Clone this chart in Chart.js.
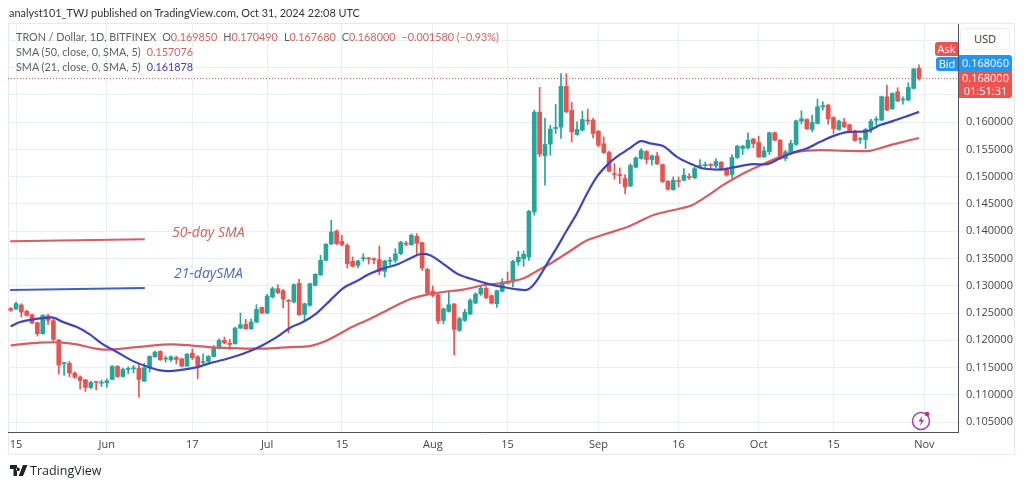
<!DOCTYPE html>
<html>
<head>
<meta charset="utf-8">
<title>TRON / Dollar</title>
<script src="https://cdn.jsdelivr.net/npm/chart.js@4/dist/chart.umd.min.js"></script>
<style>
  html, body { margin: 0; padding: 0; background: #fff; }
  body { width: 1024px; height: 487px; position: relative; overflow: hidden; font-family: Lato, "Open Sans", sans-serif; color: #444; }
  canvas { position: absolute; left: 0; top: 0; }
  .abs { position: absolute; white-space: nowrap; }
  .frame { position: absolute; left: 8px; top: 23px; width: 1007px; height: 432px; border: 1px solid #e6e9ef; box-sizing: border-box; }
  .row { font-size: 10.8px; line-height: 14px; color: #5d606b; }
  .row .r { color: #d9605f; }
  .row .b { color: #3f3fb5; }
  .row .g { margin-left: 6px; }
  .note { font-size: 14px; font-style: italic; font-family: "Open Sans", sans-serif; }
  .tag { color: #fff; font-size: 11px; text-align: center; font-family: "Open Sans", sans-serif; }
</style>
</head>
<body>
<div class="frame"></div>
<canvas id="chart" width="1024" height="487"></canvas>

<div class="abs" style="left:9px;top:5px;font-size:10.9px;line-height:16px;color:#333">analyst101_TWJ published on TradingView.com, Oct 31, 2024 22:08 UTC</div>
<div class="abs row" style="left:16px;top:30px">TRON / Dollar, 1D, BITFINEX<span class="g">O</span><span class="r">0.169850</span><span class="g">H</span><span class="r">0.170490</span><span class="g">L</span><span class="r">0.167680</span><span class="g">C</span><span class="r">0.168000</span><span class="g r">−0.001580 (−0.93%)</span></div>
<div class="abs row" style="left:16px;top:45px">SMA (50, close, 0, SMA, 5)<span class="g r">0.157076</span></div>
<div class="abs row" style="left:16px;top:60px">SMA (21, close, 0, SMA, 5)<span class="g b">0.161878</span></div>

<div class="abs note" style="left:172px;top:222px;color:#d9605f">50-day SMA</div>
<div class="abs note" style="left:174px;top:263px;color:#4a68c8">21-daySMA</div>

<div class="abs" style="left:960px;top:28px;width:50px;height:22px;box-sizing:border-box;border:1px solid #eceef2;border-radius:4px;background:#fff;font-size:11px;line-height:20px;text-align:center;color:#333;font-family:'Open Sans',sans-serif">USD</div>
<div class="abs tag" style="left:935px;top:42px;width:23px;height:14px;line-height:14px;background:#ef5350;border-radius:3px 0 0 3px">Ask</div>
<div class="abs tag" style="left:936px;top:57px;width:22px;height:14px;line-height:14px;background:#2196f3;border-radius:3px 0 0 3px">Bid</div>
<div class="abs tag" style="left:959px;top:55px;width:53px;height:16px;line-height:16px;background:#2196f3;border-radius:0 3px 0 0">0.168060</div>
<div class="abs tag" style="left:959px;top:71px;width:53px;height:27px;line-height:13px;background:#ef5350;border-radius:0 0 3px 0">0.168000<br>01:51:31</div>

<svg class="abs" style="left:911px;top:409px" width="22" height="22" viewBox="0 0 22 22">
  <circle cx="10" cy="12" r="8.5" fill="none" stroke="#9c3fc0" stroke-width="1.5"/>
  <path d="M11 7 L7.5 12.5 L10 12.5 L9 17 L13 11 L10.5 11 Z" fill="#9c3fc0"/>
  <circle cx="16" cy="5" r="2.2" fill="#e91e63"/>
</svg>

<svg class="abs" style="left:10px;top:465px" width="18" height="12" viewBox="0 0 18 12">
  <path d="M0 0 H7 V11 H3.5 V4 H0 Z M8 2.5 a1.8 1.8 0 1 0 0.01 0 Z M13 0 H17.5 L13 11 H8.6 Z" fill="#1e222d"/>
</svg>
<div class="abs" style="left:30px;top:463px;font-size:12.5px;line-height:16px;color:#1e222d;font-family:'Open Sans',sans-serif">TradingView</div>

<script>
// days are counted from May 15 2024, first candle is the day before
const firstDay = -1;

const opens = [
  0.12580, 0.12574, 0.12648, 0.12531, 0.12470, 0.12323, 0.12121, 0.12452, 0.12360, 0.12005,
  0.11577, 0.11577, 0.11399, 0.11326, 0.11277, 0.11136, 0.11240, 0.11215, 0.11222, 0.11283,
  0.11521, 0.11338, 0.11466, 0.11479, 0.11491, 0.11252, 0.11497, 0.11699, 0.11797, 0.11656,
  0.11644, 0.11686, 0.11661, 0.11527, 0.11765, 0.11698, 0.11594, 0.11612, 0.11704, 0.11857,
  0.11998, 0.11949, 0.11937, 0.12224, 0.12292, 0.12212, 0.12335, 0.12604, 0.12500, 0.12794,
  0.12947, 0.12910, 0.12726, 0.12702, 0.13045, 0.12475, 0.12641, 0.13008, 0.13198, 0.13467,
  0.13767, 0.14005, 0.13816, 0.13742, 0.13448, 0.13375, 0.13497, 0.13510, 0.13497, 0.13479,
  0.13265, 0.13448, 0.13467, 0.13589, 0.13779, 0.13754, 0.13907, 0.13791, 0.13302, 0.12904,
  0.12836, 0.12365, 0.12530, 0.12665, 0.12182, 0.12365, 0.12481, 0.12683, 0.12849, 0.12953,
  0.12818, 0.12671, 0.12898, 0.13081, 0.13069, 0.13436, 0.13497, 0.13527, 0.14353, 0.16183,
  0.15381, 0.15596, 0.15883, 0.15908, 0.16654, 0.16214, 0.15773, 0.15853, 0.16036, 0.16036,
  0.15834, 0.15602, 0.15443, 0.15057, 0.15039, 0.14965, 0.14831, 0.15173, 0.15332, 0.15461,
  0.15314, 0.15381, 0.15222, 0.14916, 0.14763, 0.14923, 0.14935, 0.15002, 0.14978, 0.15192,
  0.15204, 0.15216, 0.15198, 0.15265, 0.15137, 0.15039, 0.15351, 0.15516, 0.15528, 0.15688,
  0.15626, 0.15363, 0.15461, 0.15804, 0.15669, 0.15333, 0.15437, 0.15590, 0.16018, 0.16049,
  0.15865, 0.15975, 0.16281, 0.16312, 0.16085, 0.15865, 0.16000, 0.15951, 0.15841, 0.15681,
  0.15681, 0.15883, 0.16036, 0.16036, 0.16465, 0.16244, 0.16557, 0.16404, 0.16404, 0.16618,
  0.16985
];
const highs = [
  0.12605, 0.12703, 0.12672, 0.12556, 0.12482, 0.12335, 0.12470, 0.12476, 0.12397, 0.12017,
  0.11595, 0.11613, 0.11424, 0.11350, 0.11283, 0.11252, 0.11246, 0.11271, 0.11295, 0.11540,
  0.11540, 0.11491, 0.11515, 0.11540, 0.11570, 0.11577, 0.11717, 0.11803, 0.11809, 0.11711,
  0.11717, 0.11710, 0.11674, 0.11759, 0.11845, 0.11723, 0.11753, 0.11723, 0.11906, 0.12029,
  0.12059, 0.12016, 0.12243, 0.12500, 0.12384, 0.12396, 0.12653, 0.12610, 0.12843, 0.12977,
  0.13020, 0.12934, 0.12751, 0.13038, 0.13118, 0.12683, 0.13051, 0.13222, 0.13559, 0.13773,
  0.14201, 0.14024, 0.13926, 0.13773, 0.13528, 0.13473, 0.13589, 0.13522, 0.13510, 0.13730,
  0.13467, 0.13522, 0.13681, 0.13816, 0.13816, 0.13950, 0.13956, 0.13803, 0.13326, 0.12996,
  0.12855, 0.12592, 0.12885, 0.12677, 0.12426, 0.12567, 0.12763, 0.12873, 0.12996, 0.12983,
  0.12836, 0.12922, 0.13130, 0.13253, 0.13467, 0.13632, 0.13638, 0.14384, 0.16220, 0.16636,
  0.16067, 0.15944, 0.16324, 0.16887, 0.16887, 0.16361, 0.16006, 0.16201, 0.16238, 0.16067,
  0.15846, 0.15730, 0.15467, 0.15241, 0.15161, 0.15039, 0.15234, 0.15363, 0.15516, 0.15479,
  0.15394, 0.15443, 0.15234, 0.14928, 0.14996, 0.14996, 0.15149, 0.15057, 0.15180, 0.15314,
  0.15271, 0.15241, 0.15333, 0.15278, 0.15167, 0.15406, 0.15577, 0.15577, 0.15804, 0.15706,
  0.15743, 0.15547, 0.15816, 0.15822, 0.15681, 0.15486, 0.15669, 0.16036, 0.16208, 0.16061,
  0.16128, 0.16422, 0.16373, 0.16324, 0.16098, 0.16036, 0.16067, 0.15963, 0.15853, 0.15718,
  0.15883, 0.16049, 0.16098, 0.16477, 0.16679, 0.16538, 0.16630, 0.16465, 0.16722, 0.16985,
  0.17049
];
const lows = [
  0.12531, 0.12568, 0.12427, 0.12446, 0.12305, 0.12078, 0.12115, 0.12293, 0.11980, 0.11381,
  0.11356, 0.11332, 0.11301, 0.11111, 0.11062, 0.11118, 0.11093, 0.11154, 0.11142, 0.11277,
  0.11319, 0.11326, 0.11387, 0.11405, 0.10958, 0.11246, 0.11417, 0.11687, 0.11632, 0.11601,
  0.11613, 0.11570, 0.11515, 0.11521, 0.11649, 0.11294, 0.11570, 0.11600, 0.11692, 0.11845,
  0.11937, 0.11833, 0.11931, 0.12212, 0.12200, 0.12200, 0.12322, 0.12488, 0.12488, 0.12775,
  0.12855, 0.12592, 0.12139, 0.12690, 0.12457, 0.12347, 0.12628, 0.12996, 0.13191, 0.13455,
  0.13754, 0.13754, 0.13730, 0.13326, 0.13344, 0.13326, 0.13448, 0.13399, 0.13399, 0.13204,
  0.13161, 0.13387, 0.13424, 0.13571, 0.13730, 0.13742, 0.13571, 0.13283, 0.12855, 0.12800,
  0.12304, 0.12304, 0.12518, 0.11735, 0.12163, 0.12347, 0.12469, 0.12671, 0.12824, 0.12763,
  0.12665, 0.12604, 0.12885, 0.13032, 0.12977, 0.13375, 0.13357, 0.13466, 0.14292, 0.15363,
  0.14843, 0.15394, 0.15791, 0.15700, 0.16171, 0.15638, 0.15761, 0.15834, 0.15957, 0.15712,
  0.15547, 0.15424, 0.15088, 0.14953, 0.14873, 0.14684, 0.14812, 0.15161, 0.15320, 0.15234,
  0.15210, 0.15222, 0.14892, 0.14751, 0.14751, 0.14812, 0.14923, 0.14947, 0.14965, 0.15149,
  0.15167, 0.15137, 0.15167, 0.15118, 0.15008, 0.14978, 0.15333, 0.15406, 0.15510, 0.15534,
  0.15351, 0.15351, 0.15406, 0.15657, 0.15314, 0.15290, 0.15424, 0.15577, 0.15963, 0.15865,
  0.15822, 0.15963, 0.16220, 0.15963, 0.15792, 0.15853, 0.15896, 0.15804, 0.15651, 0.15608,
  0.15516, 0.15804, 0.15945, 0.16024, 0.16208, 0.16232, 0.16373, 0.16330, 0.16391, 0.16606,
  0.16768
];
const closes = [
  0.12550, 0.12672, 0.12519, 0.12458, 0.12317, 0.12121, 0.12458, 0.12366, 0.12017, 0.11546,
  0.11595, 0.11399, 0.11326, 0.11264, 0.11136, 0.11228, 0.11228, 0.11228, 0.11258, 0.11521,
  0.11338, 0.11466, 0.11479, 0.11491, 0.11283, 0.11497, 0.11705, 0.11785, 0.11644, 0.11668,
  0.11699, 0.11649, 0.11527, 0.11747, 0.11680, 0.11539, 0.11612, 0.11704, 0.11857, 0.11998,
  0.11955, 0.11925, 0.12224, 0.12286, 0.12212, 0.12335, 0.12567, 0.12500, 0.12812, 0.12947,
  0.12873, 0.12757, 0.12714, 0.13020, 0.12469, 0.12671, 0.13038, 0.13210, 0.13467, 0.13761,
  0.13987, 0.13773, 0.13754, 0.13406, 0.13357, 0.13455, 0.13510, 0.13491, 0.13473, 0.13265,
  0.13455, 0.13467, 0.13583, 0.13797, 0.13761, 0.13926, 0.13779, 0.13326, 0.12867, 0.12824,
  0.12353, 0.12579, 0.12653, 0.12200, 0.12396, 0.12518, 0.12732, 0.12849, 0.12953, 0.12781,
  0.12683, 0.12910, 0.13069, 0.13045, 0.13448, 0.13522, 0.13577, 0.14365, 0.16183, 0.15412,
  0.15589, 0.15871, 0.15902, 0.16654, 0.16189, 0.15822, 0.15865, 0.16048, 0.16018, 0.15791,
  0.15577, 0.15443, 0.15100, 0.15039, 0.15020, 0.14812, 0.15204, 0.15345, 0.15479, 0.15314,
  0.15381, 0.15234, 0.14910, 0.14769, 0.14935, 0.14910, 0.15027, 0.14984, 0.15149, 0.15204,
  0.15216, 0.15204, 0.15278, 0.15137, 0.15027, 0.15351, 0.15559, 0.15559, 0.15669, 0.15608,
  0.15363, 0.15473, 0.15804, 0.15669, 0.15333, 0.15455, 0.15608, 0.16024, 0.16061, 0.15877,
  0.15994, 0.16281, 0.16300, 0.16061, 0.15883, 0.16018, 0.15914, 0.15822, 0.15663, 0.15694,
  0.15865, 0.16018, 0.16055, 0.16465, 0.16220, 0.16526, 0.16385, 0.16416, 0.16636, 0.16973,
  0.16800
];

const sma21Days = [-1, 0.75, 3.2, 5, 7, 8.8, 11.4, 13.8, 16.3, 18.9, 21.9, 24.5, 27, 28.8, 31.3, 33.9, 36.3, 39.5, 42.5, 45.7, 48.8, 51.3, 53.7, 56.3, 58.8, 61.2, 63.8, 66.3, 68.7, 71.3, 73.7, 75.6, 77.5, 79.9, 82.5, 85, 88.2, 91.1, 93.8, 95.8, 97.5, 99.4, 101.3, 103.1, 105, 106.9, 108.7, 110.6, 112.4, 114.9, 116.9, 118.7, 121.1, 123.7, 126.1, 128.6, 132.3, 134.2, 137.9, 140.6, 143, 145.4, 148, 150.5, 152.9, 155.5, 159.3, 161.7, 164.1, 166.8, 169];
const sma21Values = [0.12256, 0.12335, 0.12385, 0.12408, 0.12416, 0.12335, 0.12243, 0.12109, 0.11926, 0.11785, 0.11619, 0.11522, 0.11449, 0.11436, 0.11462, 0.11509, 0.11583, 0.11663, 0.11755, 0.11889, 0.12060, 0.12232, 0.12335, 0.12500, 0.12733, 0.12954, 0.13088, 0.13223, 0.13315, 0.13389, 0.13499, 0.13578, 0.13559, 0.13407, 0.13223, 0.13132, 0.13040, 0.12977, 0.12935, 0.12930, 0.13100, 0.13407, 0.13712, 0.14018, 0.14330, 0.14697, 0.14996, 0.15211, 0.15363, 0.15523, 0.15651, 0.15609, 0.15560, 0.15363, 0.15242, 0.15150, 0.15132, 0.15169, 0.15229, 0.15229, 0.15339, 0.15437, 0.15517, 0.15638, 0.15743, 0.15816, 0.15835, 0.15945, 0.16018, 0.16110, 0.16188];

const sma50Days = [-1, 0.75, 4.5, 8.2, 11.4, 14.4, 17, 20.8, 24.5, 28.8, 32.6, 36.9, 40.6, 46.2, 51.3, 55, 57.5, 60.6, 62.5, 66.3, 70, 73.7, 76.9, 79.9, 83.7, 87.4, 91.1, 94.9, 97.5, 100.5, 103.7, 106.9, 110.6, 114.9, 119.2, 124.3, 126.5, 129.3, 132.3, 136.1, 139.8, 143, 146.2, 150.5, 155.5, 159.8, 163, 166, 169];
const sma50Values = [0.11908, 0.11926, 0.11957, 0.11963, 0.11926, 0.11858, 0.11829, 0.11858, 0.11895, 0.11926, 0.11908, 0.11871, 0.11858, 0.11847, 0.11876, 0.11895, 0.11968, 0.12122, 0.12225, 0.12397, 0.12581, 0.12752, 0.12838, 0.12886, 0.12930, 0.13009, 0.13051, 0.13132, 0.13271, 0.13436, 0.13638, 0.13834, 0.13957, 0.14097, 0.14293, 0.14416, 0.14477, 0.14642, 0.14844, 0.15059, 0.15229, 0.15363, 0.15455, 0.15486, 0.15473, 0.15473, 0.15560, 0.15638, 0.15708];

// the two hand drawn key lines next to the 50-day / 21-day notes
const keyDays = [-1.1, 24.1];
const key50Values = [0.13816, 0.13853];
const key21Values = [0.12922, 0.12959];

const lastPrice = 0.168;
const axisDays = [-1.5, 176.3];

const xTickDays = [0, 17, 33, 47, 61, 78, 92, 109, 124, 139, 153, 170];
const xTickLabels = ['15', 'Jun', '17', 'Jul', '15', 'Aug', '15', 'Sep', '16', 'Oct', '15', 'Nov'];
const yTicks = [0.105, 0.11, 0.115, 0.12, 0.125, 0.13, 0.135, 0.14, 0.145, 0.15, 0.155, 0.16, 0.165, 0.17, 0.175];
const yMin = 0.1032;
const yMax = 0.17798;

const green = '#26a69a';
const red = '#e8534f';
const gridColor = '#e9eff3';
const axisColor = '#50535e';

let days = opens.map(function(o, i){ return firstDay + i; });
let colors = opens.map(function(o, i){ return closes[i] >= o ? green : red; });

function xyLine(xs, ys){
    return xs.map(function(x, i){ return { x: x, y: ys[i] }; });
}

let config = {
    data: {
        datasets: [
            {
                type: 'bar',
                label: 'wick',
                data: days.map(function(d, i){ return { x: d, y: [lows[i], highs[i]] }; }),
                backgroundColor: colors,
                barThickness: 1,
                grouped: false,
                order: 5
            },
            {
                type: 'bar',
                label: 'body',
                data: days.map(function(d, i){ return { x: d, y: [opens[i], closes[i]] }; }),
                backgroundColor: colors,
                barThickness: 4,
                minBarLength: 1,
                grouped: false,
                order: 4
            },
            {
                type: 'line',
                label: 'SMA 50',
                data: xyLine(sma50Days, sma50Values),
                borderColor: '#dc5a62',
                borderWidth: 2.2,
                pointRadius: 0,
                tension: 0.3,
                order: 2
            },
            {
                type: 'line',
                label: 'SMA 21',
                data: xyLine(sma21Days, sma21Values),
                borderColor: '#3f44c0',
                borderWidth: 2.2,
                pointRadius: 0,
                tension: 0.3,
                order: 1
            },
            {
                type: 'line',
                label: '50-day key',
                data: xyLine(keyDays, key50Values),
                borderColor: '#dc5a62',
                borderWidth: 2,
                pointRadius: 0,
                order: 3
            },
            {
                type: 'line',
                label: '21-day key',
                data: xyLine(keyDays, key21Values),
                borderColor: '#3f5fc8',
                borderWidth: 2,
                pointRadius: 0,
                order: 3
            },
            {
                type: 'line',
                label: 'last price',
                data: xyLine(axisDays, [lastPrice, lastPrice]),
                borderColor: '#e8534f',
                borderWidth: 1,
                borderDash: [1, 2],
                pointRadius: 0,
                order: 6
            }
        ]
    },
    options: {
        responsive: false,
        animation: false,
        layout: { padding: { left: 8, top: 24, right: 8, bottom: 31 } },
        plugins: { legend: { display: false }, tooltip: { enabled: false } },
        scales: {
            x: {
                type: 'linear',
                offset: false,
                min: axisDays[0],
                max: axisDays[1],
                afterBuildTicks: function(scale){
                    scale.ticks = xTickDays.map(function(v){ return { value: v }; });
                },
                afterFit: function(scale){ scale.height = 24; },
                grid: { color: gridColor, drawTicks: false, offset: false },
                border: { color: axisColor, width: 1 },
                ticks: {
                    autoSkip: false,
                    maxRotation: 0,
                    padding: 6,
                    color: '#444',
                    font: { family: '"Open Sans"', size: 11 },
                    callback: function(v){ return xTickLabels[xTickDays.indexOf(v)]; }
                }
            },
            y: {
                position: 'right',
                min: yMin,
                max: yMax,
                afterBuildTicks: function(scale){
                    scale.ticks = yTicks.map(function(v){ return { value: v }; });
                },
                afterFit: function(scale){ scale.width = 58; },
                grid: { color: gridColor, drawTicks: false },
                border: { color: axisColor, width: 1 },
                ticks: {
                    autoSkip: false,
                    padding: 8,
                    color: '#444',
                    font: { family: '"Open Sans"', size: 11 },
                    // labels above 0.16 sit under the price tags and the USD button
                    callback: function(v){ return v > 0.1601 ? '' : v.toFixed(6); }
                }
            }
        }
    }
};

let chart1 = new Chart(document.getElementById('chart'), config);
</script>
</body>
</html>
